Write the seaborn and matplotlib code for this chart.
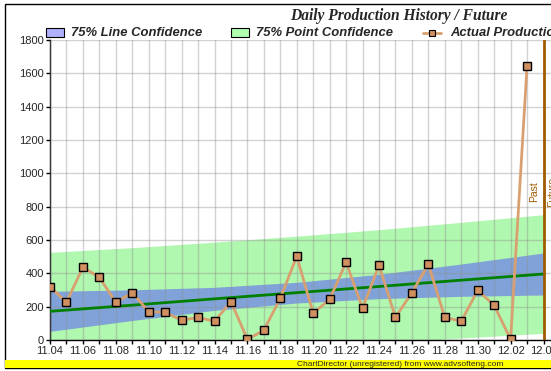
import numpy as np
import pandas as pd
import matplotlib
matplotlib.use("Agg")
import matplotlib.pyplot as plt
from matplotlib.patches import Rectangle
from matplotlib.lines import Line2D
import seaborn as sns

# daily production, 11.04 .. 12.03
dates = ["11.04", "11.05", "11.06", "11.07", "11.08", "11.09", "11.10", "11.11",
         "11.12", "11.13", "11.14", "11.15", "11.16", "11.17", "11.18", "11.19",
         "11.20", "11.21", "11.22", "11.23", "11.24", "11.25", "11.26", "11.27",
         "11.28", "11.29", "11.30", "12.01", "12.02", "12.03"]
production = [320, 226, 436, 376, 226, 284, 170, 166, 118, 136, 112, 230, 4, 58,
              250, 502, 160, 244, 466, 190, 448, 136, 284, 454, 136, 112, 298, 208,
              4, 1642]

# trend line and confidence bands, read at a few days (day 0 = 11.04)
band_days = [0, 5, 10, 15, 20, 25, 30]
trend = [172, 209, 247, 284, 321, 359, 396]
line_conf_half = [120, 92, 69, 62, 73, 97, 126]
point_conf_half = [354, 345, 340, 339, 341, 347, 356]

tick_labels = ["11.04", "11.06", "11.08", "11.10", "11.12", "11.14", "11.16",
               "11.18", "11.20", "11.22", "11.24", "11.26", "11.28", "11.30",
               "12.02", "12.04"]
future_day = 30

df = pd.DataFrame({"day": np.arange(len(dates)), "production": production})
bands = pd.DataFrame({"day": band_days, "trend": trend,
                      "lc": line_conf_half, "pc": point_conf_half})

sns.set_style("white")
plt.rcParams["font.family"] = ["Liberation Sans", "DejaVu Sans"]

fig = plt.figure(figsize=(5.51, 3.71), dpi=100)
W, H = 551, 371
ax = fig.add_axes([50 / W, 31 / H, 31 * 16.45 / W, 300 / H])

ax.fill_between(bands["day"], bands["trend"] - bands["pc"], bands["trend"] + bands["pc"],
                color="#b0f7b0", lw=0, zorder=1)
ax.fill_between(bands["day"], bands["trend"] - bands["lc"], bands["trend"] + bands["lc"],
                color="#80a2d8", lw=0, zorder=2)

ax.set_axisbelow(False)
ax.set_xticks(np.arange(0, 31, 1), minor=True)
ax.set_xticks(np.arange(0, 31, 2))
ax.set_xticklabels(tick_labels)
ax.set_yticks(np.arange(0, 1801, 200))
ax.grid(True, which="both", axis="x", color="#909090", alpha=0.4, lw=1, zorder=3)
ax.grid(True, which="major", axis="y", color="#909090", alpha=0.4, lw=1, zorder=3)

sns.lineplot(data=bands, x="day", y="trend", color="#008000", lw=2, ax=ax, zorder=4)
sns.lineplot(data=df, x="day", y="production", color="#d8a070", lw=2, marker="s",
             markersize=6, markerfacecolor="#d09060", markeredgecolor="black",
             markeredgewidth=1, ax=ax, zorder=5)

ax.axvline(future_day, color="#a05a00", lw=2, zorder=6)
ax.text(future_day - 0.25, 890, "Past", rotation=90, ha="right", va="center",
        color="#a05a00", fontsize=7.5)
ax.text(future_day + 0.25, 890, "Future", rotation=90, ha="left", va="center",
        color="#a05a00", fontsize=7.5)

ax.set_xlim(0, 31)
ax.set_ylim(0, 1800)
ax.set_xlabel("")
ax.set_ylabel("")
for s in ["top", "right"]:
    ax.spines[s].set_visible(False)
for s in ["left", "bottom"]:
    ax.spines[s].set_color("black")
    ax.spines[s].set_linewidth(1)
ax.tick_params(axis="both", which="both", direction="out", length=3, width=1,
               color="black", labelsize=8, pad=1.5, left=True, bottom=True)
ax.tick_params(axis="x", which="minor", length=3)

# title
fig.text(399 / W, 1 - 16 / H, "Daily Production History / Future",
         family="Liberation Serif", style="italic", weight="bold",
         fontsize=11.2, ha="center", va="center")

# legend
ly = 1 - 32.5 / H
fig.patches.append(Rectangle((46 / W, 1 - 37 / H), 18 / W, 9 / H, transform=fig.transFigure,
                             facecolor="#b0b0ff", edgecolor="black", lw=0.8))
fig.text(71 / W, ly, "75% Line Confidence", style="italic", weight="bold",
         fontsize=9.4, va="center")
fig.patches.append(Rectangle((231 / W, 1 - 37 / H), 18 / W, 9 / H, transform=fig.transFigure,
                             facecolor="#b0ffb0", edgecolor="black", lw=0.8))
fig.text(256 / W, ly, "75% Point Confidence", style="italic", weight="bold",
         fontsize=9.4, va="center")
fig.lines.append(Line2D([423 / W, 441 / W], [ly, ly], transform=fig.transFigure,
                        color="#d8a070", lw=2))
fig.lines.append(Line2D([432 / W], [ly], transform=fig.transFigure, marker="s",
                        markersize=5, markerfacecolor="#d09060",
                        markeredgecolor="black", markeredgewidth=0.8, lw=0))
fig.text(450 / W, ly, "Actual Production", style="italic", weight="bold",
         fontsize=9.4, va="center")

# frame and bottom bar
fig.patches.append(Rectangle((5 / W, 3 / H), 600 / W, 364 / H, transform=fig.transFigure,
                             facecolor="none", edgecolor="black", lw=1))
fig.patches.append(Rectangle((5 / W, 3 / H), 600 / W, 8 / H, transform=fig.transFigure,
                             facecolor="#ffff00", edgecolor="none"))
fig.text(400 / W, 7 / H, "ChartDirector (unregistered) from www.advsofteng.com",
         fontsize=6, ha="center", va="center")

fig.savefig("out.png", dpi=100)
